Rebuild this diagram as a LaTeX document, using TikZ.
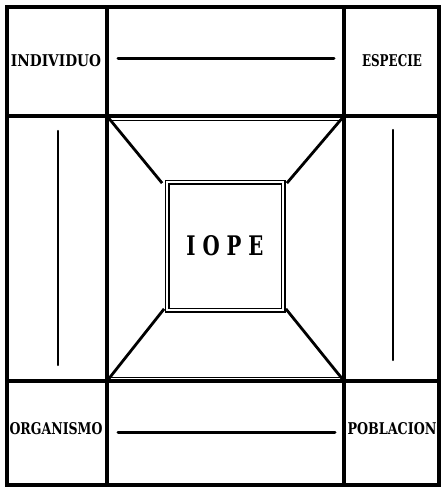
\documentclass[tikz,border=0pt]{standalone}
\usepackage{graphicx}
\usepackage{fontspec}
\usepackage{tikz}
\usetikzlibrary{positioning, calc}
\newfontfamily\gruesa{DejaVu Serif}
\tikzset{
  marco/.style={line width=3.4pt},
  fino/.style={line width=1pt},
  diagonal/.style={line width=2.8pt},
  enlace/.style={line width=3pt, line cap=round},
  rotulo/.style={inner sep=0pt, font=\gruesa\bfseries}
}
% texto ajustado a un ancho y alto de mayusculas
\newcommand{\ajusta}[3]{\resizebox{#1pt}{#2pt}{#3}}

\begin{document}
\begin{tikzpicture}[x=1pt, y=-1pt]
        \useasboundingbox (0,0) rectangle (442,488);
        % reticula
        \draw[marco] (7,7) rectangle (439,485);
        \draw[marco] (107,7) -- (107,485);
        \draw[marco] (344,7) -- (344,485);
        \draw[marco] (7,116) -- (439,116);
        \draw[marco] (7,381) -- (439,381);
        \draw[fino] (109,120) -- (342,120);
        \draw[fino] (109,377) -- (342,377);
        % cuadro central
        \node[draw, line width=1.8pt, minimum width=116pt, minimum height=128pt,
          double, double distance=1.4pt] (iope) at (225,246)
          {\gruesa\bfseries\ajusta{77}{20}{I\hspace{0.35em}O\hspace{0.35em}P\hspace{0.35em}E}};
        \coordinate (c1) at (107,116);
        \coordinate (c2) at (344,116);
        \coordinate (c3) at (107,381);
        \coordinate (c4) at (344,381);
        \draw[diagonal] (c1) -- ($(iope.north west)+(-4pt,-2pt)$);
        \draw[diagonal] (c2) -- ($(iope.north east)+(3pt,-2pt)$);
        \draw[diagonal] (c3) -- ($(iope.south west)+(-2pt,2pt)$);
        \draw[diagonal] (c4) -- ($(iope.south east)+(2pt,2pt)$);
        % rotulos de las esquinas
        \node[rotulo] (individuo) at (56,61) {\ajusta{90}{12}{INDIVIDUO}};
        \node[rotulo] (especie) at (392,61) {\ajusta{60}{12}{ESPECIE}};
        \node[rotulo] (organismo) at (56,429) {\ajusta{93}{12}{ORGANISMO}};
        \node[rotulo] (poblacion) at (392,429) {\ajusta{89}{12}{POBLACION}};
        % enlaces
        \coordinate (a1) at (118,58);  \coordinate (a2) at (334,58);
        \coordinate (b1) at (118,432); \coordinate (b2) at (335,432);
        \coordinate (i1) at (58,131);  \coordinate (i2) at (58,365);
        \coordinate (d1) at (393,130); \coordinate (d2) at (393,360);
        \draw[enlace] (a1) -- (a2);
        \draw[enlace] (b1) -- (b2);
        \draw[enlace, line width=2.4pt] (i1) -- (i2);
        \draw[enlace, line width=2.4pt] (d1) -- (d2);
      \end{tikzpicture}
\end{document}
